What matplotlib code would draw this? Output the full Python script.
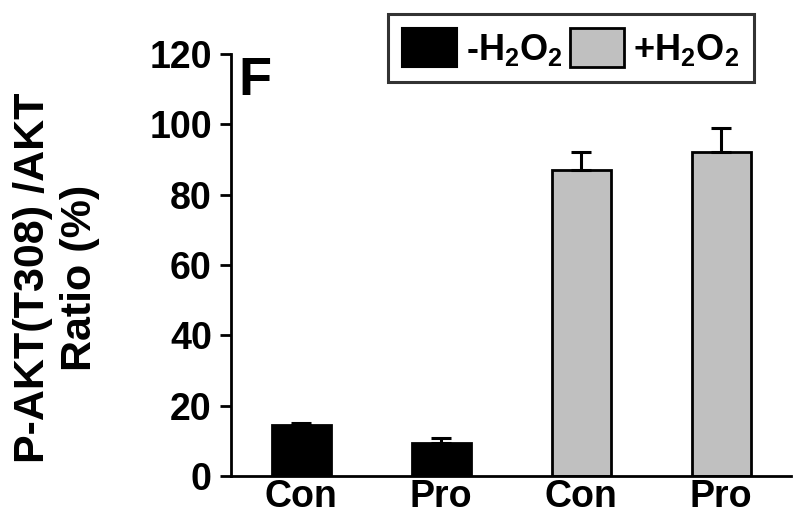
import matplotlib
matplotlib.use("Agg")
import matplotlib.pyplot as plt
from matplotlib.patches import Patch

plt.rcParams['font.family'] = ['Liberation Sans', 'DejaVu Sans']
plt.rcParams['font.weight'] = 'bold'
plt.rcParams['mathtext.fontset'] = 'custom'
plt.rcParams['mathtext.rm'] = 'Liberation Sans:bold'
plt.rcParams['mathtext.bf'] = 'Liberation Sans:bold'
plt.rcParams['mathtext.default'] = 'bf'

# data
labels = ['Con', 'Pro', 'Con', 'Pro']
values = [14.5, 9.3, 87, 92]
errors = [0.7, 1.5, 5, 7]
groups = ['-H$_2$O$_2$', '+H$_2$O$_2$']
colors = ['black', 'black', '#c0c0c0', '#c0c0c0']

fig = plt.figure(figsize=(8, 5.21), dpi=100)
ax = fig.add_axes([0.289, 0.0864, 0.70, 0.81])

x = range(len(values))
ax.bar(x, values, width=0.42, color=colors, edgecolor='black', linewidth=2,
       yerr=[[0] * len(errors), errors], capsize=7,
       error_kw=dict(elinewidth=2.2, capthick=2.2, ecolor='black'), zorder=2)

ax.set_xlim(-0.5, 3.5)
ax.set_ylim(0, 120)
ax.set_yticks(range(0, 121, 20))
ax.set_xticks(list(x))
ax.set_xticklabels(labels)
ax.tick_params(axis='x', length=0, labelsize=27, pad=2)
ax.tick_params(axis='y', direction='out', length=8, width=2, labelsize=27, pad=6)
for s in ['top', 'right']:
    ax.spines[s].set_visible(False)
for s in ['left', 'bottom']:
    ax.spines[s].set_linewidth(2)

ax.set_ylabel('P-AKT(T308) /AKT\nRatio (%)', fontsize=31, fontweight='bold',
              linespacing=1.2)
ax.yaxis.set_label_coords(-0.235, 0.47)

ax.text(0.012, 0.995, 'F', transform=ax.transAxes, fontsize=39, fontweight='bold',
        va='top', ha='left')

handles = [Patch(facecolor='black', edgecolor='black', linewidth=1.5),
           Patch(facecolor='#c0c0c0', edgecolor='black', linewidth=2)]
leg = fig.legend(handles, groups, loc='upper left', bbox_to_anchor=(388 / 800, 1 - 14 / 521),
                 ncol=2, fontsize=26, frameon=True, fancybox=False,
                 handlelength=1.5, handleheight=1.25, handletextpad=0.25,
                 columnspacing=0.2, borderpad=0.4, borderaxespad=0)
leg.get_frame().set_edgecolor('black')
leg.get_frame().set_linewidth(2.2)

fig.savefig('out.png', dpi=100)
